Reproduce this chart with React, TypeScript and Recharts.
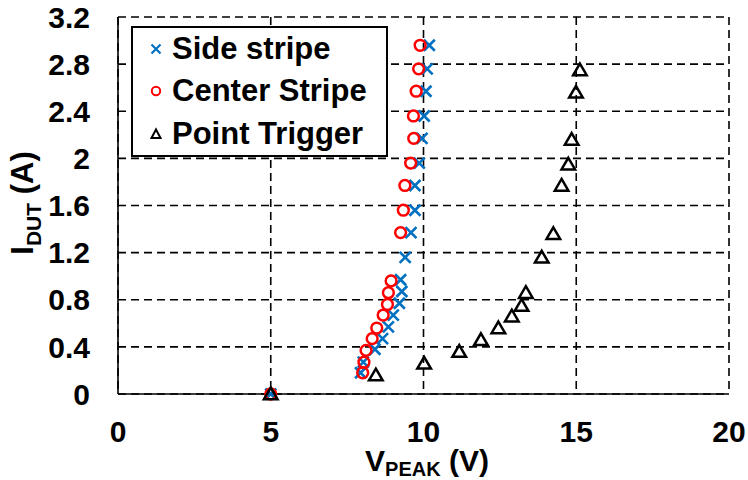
import { ScatterChart, Scatter, XAxis, YAxis, CartesianGrid, Label } from 'recharts';

const FONT = '"Liberation Sans", Arial, sans-serif';

// series values (V, A)
const sideV = [5, 7.94, 8.03, 8.41, 8.66, 8.85, 9.01, 9.21, 9.29, 9.25, 9.4, 9.59, 9.72, 9.72, 9.86, 9.95, 10.02, 10.08, 10.12, 10.19];
const sideI = [0, 0.18, 0.27, 0.38, 0.47, 0.57, 0.67, 0.77, 0.87, 0.97, 1.16, 1.37, 1.56, 1.77, 1.96, 2.17, 2.36, 2.57, 2.76, 2.96];

const centerV = [5, 8.01, 8.05, 8.12, 8.32, 8.47, 8.68, 8.82, 8.85, 8.94, 9.25, 9.34, 9.39, 9.58, 9.68, 9.67, 9.76, 9.84, 9.89];
const centerI = [0, 0.18, 0.27, 0.37, 0.47, 0.56, 0.67, 0.76, 0.86, 0.96, 1.37, 1.56, 1.77, 1.96, 2.17, 2.36, 2.57, 2.76, 2.96];

const pointV = [5, 8.44, 10.02, 11.17, 11.88, 12.45, 12.89, 13.21, 13.35, 13.87, 14.25, 14.52, 14.74, 14.85, 14.99, 15.12];
const pointI = [0, 0.16, 0.26, 0.36, 0.46, 0.56, 0.66, 0.75, 0.86, 1.16, 1.36, 1.77, 1.95, 2.16, 2.56, 2.75];

const xTicks = [0, 5, 10, 15, 20];
const yTicks = [0, 0.4, 0.8, 1.2, 1.6, 2, 2.4, 2.8, 3.2];

const seriesNames = ['Side stripe', 'Center Stripe', 'Point Trigger'];

const toPoints = (xs: number[], ys: number[]) => xs.map((v, i) => ({ v, i: ys[i] }));

const sideData = toPoints(sideV, sideI);
const centerData = toPoints(centerV, centerI);
const pointData = toPoints(pointV, pointI);

const CrossMark = ({ cx, cy }: any) => {
  const r = 5.5;
  return (
    <path
      d={`M${cx - r},${cy - r}L${cx + r},${cy + r}M${cx - r},${cy + r}L${cx + r},${cy - r}`}
      stroke="#0070C0"
      strokeWidth={2.6}
      fill="none"
    />
  );
};

const CircleMark = ({ cx, cy }: any) => (
  <circle cx={cx} cy={cy} r={5.4} stroke="#FF0000" strokeWidth={2.5} fill="none" />
);

const TriangleMark = ({ cx, cy }: any) => (
  <path
    d={`M${cx},${cy - 6.5}L${cx + 6.8},${cy + 5.2}L${cx - 6.8},${cy + 5.2}Z`}
    stroke="#000"
    strokeWidth={2.5}
    fill="none"
  />
);

const tickStyle = { fontSize: 30, fontWeight: 'bold', fill: '#000', fontFamily: FONT };

const legendMarks = [
  <svg width={14} height={14} key="a"><path d="M2.5,2.5L11.5,11.5M2.5,11.5L11.5,2.5" stroke="#0070C0" strokeWidth={2.2} /></svg>,
  <svg width={14} height={14} key="b"><circle cx={7} cy={7} r={4.2} stroke="#FF0000" strokeWidth={2} fill="none" /></svg>,
  <svg width={14} height={14} key="c"><path d="M7,2.5L11.5,11L2.5,11Z" stroke="#000" strokeWidth={2} fill="none" /></svg>,
];

const LegendBox = () => (
  <div
    style={{
      position: 'absolute',
      left: 131,
      top: 26,
      width: 253,
      height: 127,
      border: '2px solid #000',
      background: '#fff',
    }}
  >
    {seriesNames.map((name, k) => (
      <div key={name} style={{ display: 'flex', alignItems: 'center', height: 42.33, paddingLeft: 16 }}>
        {legendMarks[k]}
        <span
          style={{
            fontFamily: FONT,
            fontWeight: 'bold',
            fontSize: 31,
            color: '#000',
            marginLeft: 9,
            lineHeight: '42px',
            whiteSpace: 'nowrap',
          }}
        >
          {name}
        </span>
      </div>
    ))}
  </div>
);

export default function App() {
  return (
    <div style={{ position: 'absolute', left: 0, top: 0, width: 748, height: 480, background: '#fff' }}>
      <ScatterChart width={748} height={480} margin={{ top: 17, right: 19, left: 0, bottom: 0 }}>
        <CartesianGrid stroke="#000" strokeWidth={1.6} strokeDasharray="8 5" />
        <XAxis
          type="number"
          dataKey="v"
          domain={[0, 20]}
          ticks={xTicks}
          interval={0}
          height={86}
          tickLine={false}
          tickSize={0}
          tickMargin={27}
          axisLine={{ stroke: '#000', strokeWidth: 1.6 }}
          tick={tickStyle}
        >
          <Label
            content={() => (
              <text x={427} y={471} textAnchor="middle" fontFamily={FONT} fontWeight="bold" fontSize={30} fill="#000">
                V
                <tspan fontSize={20} dy={5}>PEAK</tspan>
                <tspan dy={-5}> (V)</tspan>
              </text>
            )}
          />
        </XAxis>
        <YAxis
          type="number"
          dataKey="i"
          domain={[0, 3.2]}
          ticks={yTicks}
          interval={0}
          width={118}
          tickLine={false}
          tickSize={0}
          tickMargin={28}
          axisLine={{ stroke: '#000', strokeWidth: 1.6 }}
          tick={tickStyle}
        >
          <Label
            content={() => (
              <text
                x={0}
                y={0}
                transform="translate(33,203) rotate(-90)"
                textAnchor="middle"
                fontFamily={FONT}
                fontWeight="bold"
                fontSize={31}
                fill="#000"
              >
                I
                <tspan fontSize={21} dy={8}>DUT</tspan>
                <tspan dy={-8}> (A)</tspan>
              </text>
            )}
          />
        </YAxis>
        <Scatter name={seriesNames[0]} data={sideData} shape={CrossMark} isAnimationActive={false} />
        <Scatter name={seriesNames[1]} data={centerData} shape={CircleMark} isAnimationActive={false} />
        <Scatter name={seriesNames[2]} data={pointData} shape={TriangleMark} isAnimationActive={false} />
      </ScatterChart>
      <LegendBox />
    </div>
  );
}
